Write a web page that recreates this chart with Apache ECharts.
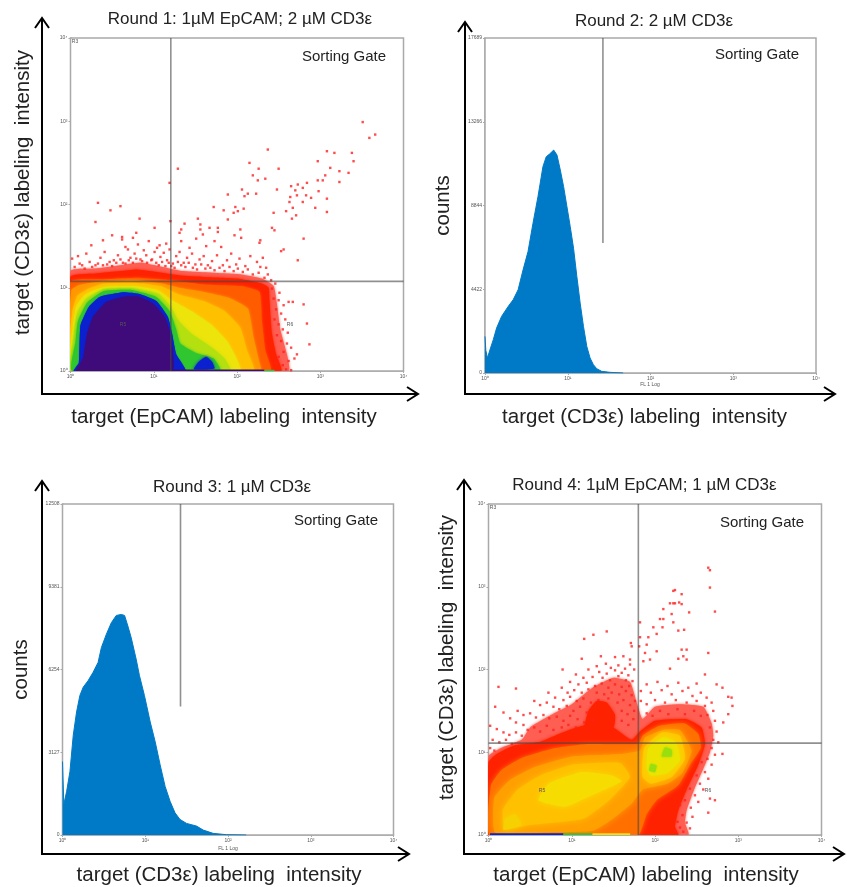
<!DOCTYPE html>
<html><head><meta charset="utf-8">
<style>html,body{margin:0;padding:0;background:#fff}#c{width:847px;height:887px;filter:blur(0.45px)}</style>
<script src="https://cdn.jsdelivr.net/npm/echarts@6/dist/echarts.min.js"></script>
</head><body><div id="c"></div>
<script>
// ---------- text ----------
const titles = ['Round 1: 1µM EpCAM; 2 µM CD3ε','Round 2: 2 µM CD3ε','Round 3: 1 µM CD3ε','Round 4: 1µM EpCAM; 1 µM CD3ε'];
const xNames = ['target (EpCAM) labeling  intensity','target (CD3ε) labeling  intensity','target (CD3ε) labeling  intensity','target (EpCAM) labeling  intensity'];
const yNames = ['target (CD3ε) labeling  intensity','counts','counts','target (CD3ε) labeling  intensity'];
const gateLabel = 'Sorting Gate';
// ---------- histograms: log10(intensity) and counts ----------
const round2Exp = [0,0.01,0.03,0.06,0.10,0.14,0.20,0.28,0.34,0.40,0.46,0.52,0.58,0.64,0.70,0.74,0.78,0.83,0.87,0.91,0.95,0.99,1.03,1.07,1.11,1.15,1.19,1.23,1.27,1.31,1.35,1.41,1.51,1.67];
const round2Counts = [1933,1200,791,1230,1757,2372,2987,3514,3865,4393,5447,6413,7907,9312,10893,11421,11561,11772,11508,10718,9839,8785,7731,6589,5095,3690,2460,1406,791,439,228,88,35,0];
const round3Exp = [0,0.016,0.05,0.09,0.13,0.17,0.21,0.25,0.31,0.37,0.43,0.47,0.53,0.59,0.65,0.71,0.75,0.79,0.83,0.89,0.93,0.99,1.06,1.12,1.18,1.24,1.30,1.36,1.42,1.50,1.62,1.70,1.82,1.98,2.22];
const round3Counts = [2774,1150,1649,2399,3773,4648,5273,5585,5835,6148,6522,7085,7585,8022,8297,8334,8297,7897,7460,6647,6023,5273,4273,3524,2649,1837,1274,837,587,437,337,187,62,12,0];
const round2Ticks = [0,4422,8844,13266,17689];
const round3Ticks = [0,3127,6254,9381,12508];
// ---------- gates: log10 positions, histogram gates stop at a count ----------
const gate1 = [1.205,1.077];
const gate4 = [1.80,1.11];
const gate2 = [1.425,6870];
const gate3 = [1.426,4860];
// ---------- Round 1 density contours (log10 x, log10 y) ----------
const r1Pale = [[0,0],[0,1.2],[.3,1.23],[.6,1.27],[.85,1.3],[1.1,1.25],[1.35,1.2],[1.7,1.18],[2.05,1.16],[2.3,1.11],[2.44,1.02],[2.48,.8],[2.52,.5],[2.6,.2],[2.62,0]];
const r1Red = [[0,0],[0,1.13],[.3,1.17],[.6,1.2],[.8,1.22],[1.1,1.18],[1.3,1.15],[1.6,1.13],[2,1.11],[2.3,1.05],[2.38,1],[2.39,.85],[2.42,.45],[2.47,.2],[2.53,0]];
const r1RedOrange = [[0,0],[0,1.07],[.4,1.1],[.8,1.12],[1.2,1.09],[1.6,1.04],[2.05,1.02],[2.27,.95],[2.3,.6],[2.34,.25],[2.4,0]];
const r1Orange = [[.01,0],[.01,.97],[.1,1.03],[.4,1.08],[.8,1.09],[1.1,1.05],[1.3,1],[1.6,.95],[1.9,.88],[2.13,.75],[2.2,.4],[2.27,.1],[2.29,0]];
const r1Amber = [[.01,0],[.02,.7],[.08,.9],[.2,.98],[.4,1.05],[.75,1.06],[1.08,1.02],[1.3,.92],[1.6,.84],[1.85,.72],[2.04,.52],[2.12,.25],[2.2,0]];
const r1Yellow = [[.01,0],[.03,.55],[.07,.78],[.18,.92],[.4,1.01],[.75,1.02],[1.05,.97],[1.22,.85],[1.45,.72],[1.7,.55],[1.88,.36],[1.98,.18],[2.04,0]];
const r1Lime = [[.02,0],[.04,.45],[.08,.7],[.19,.87],[.4,.985],[.75,.995],[1.05,.93],[1.2,.78],[1.3,.6],[1.45,.45],[1.7,.28],[1.85,.15],[1.92,0]];
const r1Green = [[.02,0],[.06,.35],[.09,.6],[.2,.82],[.4,.96],[.72,.975],[1.03,.89],[1.19,.72],[1.27,.5],[1.32,.33],[1.5,.22],[1.72,.15],[1.8,0]];
const r1Blue = [[.04,0],[.1,.1],[.12,.55],[.22,.77],[.35,.89],[.63,.945],[.83,.925],[1.03,.84],[1.17,.65],[1.22,.45],[1.27,.2],[1.38,0]];
const r1BluePatch = [[1.48,.02],[1.53,.1],[1.63,.17],[1.7,.11],[1.73,.03]];
const r1Purple = [[.07,0],[.15,.15],[.2,.45],[.27,.65],[.43,.83],[.63,.89],[.83,.89],[.99,.81],[1.13,.65],[1.2,.45],[1.22,0]];
const r1StripDark = [[1.22,0],[2.33,0],[2.33,.015],[1.22,.015]];
const r1StripLight = [[2.33,0],[2.45,0],[2.45,.015],[2.33,.015]];
// Round 1 individual events
const r1Dots = [[3.51,2.99],[3.66,2.84],[3.59,2.8],[2.37,2.66],[3.17,2.62],[3.08,2.64],[3.38,2.62],[2.97,2.52],[3.4,2.52],[2.15,2.5],[1.29,2.43],[2.26,2.43],[2.5,2.43],[3.12,2.44],[3.23,2.4],[2.19,2.35],[3.34,2.38],[3.06,2.35],[2.25,2.29],[2.34,2.31],[2.97,2.29],[3.03,2.29],[3.23,2.27],[1.19,2.26],[2.73,2.24],[2.65,2.22],[2.84,2.26],[2.79,2.2],[2.7,2.17],[2.48,2.18],[2.06,2.18],[2.23,2.13],[2.13,2.13],[2.09,2.1],[1.89,2.12],[2.98,2.16],[2.83,2.11],[2.64,2.09],[2.72,2.11],[3.08,2.07],[2.89,2.08],[2.79,2.03],[2.63,2.03],[.33,2.02],[.6,1.98],[.48,1.93],[1.72,1.97],[1.98,1.97],[2.67,1.96],[2.94,1.96],[1.84,1.93],[2.01,1.92],[1.96,1.9],[2.08,1.95],[2.59,1.92],[3.08,1.91],[2.44,1.9],[2.71,1.87],[2.66,1.83],[1.53,1.83],[.83,1.83],[1.2,1.8],[1.89,1.82],[.3,1.79],[1.37,1.77],[1.56,1.76],[1.67,1.72],[1.77,1.72],[2.42,1.72],[2.45,1.69],[1.01,1.72],[1.33,1.7],[2.04,1.7],[1.56,1.7],[.79,1.66],[1.31,1.66],[1.59,1.64],[1.77,1.67],[1.97,1.63],[2.05,1.6],[2.8,1.59],[.5,1.63],[.62,1.61],[.75,1.6],[.39,1.57],[.62,1.58],[1.33,1.56],[1.51,1.59],[1.73,1.56],[2.28,1.57],[2.27,1.54],[.25,1.51],[1.07,1.51],[1.15,1.53],[1.43,1.48],[1.63,1.5],[1.81,1.49],[2.56,1.46],[.66,1.49],[2.8,.8],[2.84,.57],[2.87,.32],[2.72,.2],[2.67,.83],[2.65,.01],[2.69,.15],[2.53,1.44],[2.73,1.33],
 [.02,1.35],[.09,1.38],[.11,1.29],[.19,1.41],[.23,1.31],[.3,1.27],[.36,1.36],[.41,1.43],[.44,1.28],[.52,1.33],[.57,1.39],[.63,1.3],[.69,1.46],[.72,1.36],[.77,1.41],[.81,1.52],[.84,1.34],[.88,1.45],[.91,1.39],[.94,1.56],[.97,1.33],[1.01,1.43],[1.04,1.48],[1.08,1.37],[1.12,1.42],[1.16,1.33],[1.19,1.46],[1.23,1.29],[1.27,1.38],[1.31,1.43],[1.36,1.3],[1.4,1.36],[1.46,1.41],[1.5,1.28],[1.55,1.34],[1.6,1.38],[1.65,1.27],[1.7,1.32],[1.76,1.39],[1.83,1.27],[1.88,1.33],[1.93,1.41],[1.99,1.28],[2.03,1.35],[2.1,1.26],[2.16,1.38],[2.24,1.31],[2.31,1.36],[2.35,1.24],[2.28,1.25],
 [.05,1.25],[.14,1.27],[.17,1.23],[.26,1.25],[.33,1.29],[.39,1.27],[.47,1.31],[.5,1.26],[.55,1.3],[.6,1.34],[.66,1.29],[.7,1.33],[.75,1.3],[.79,1.35],[.86,1.32],[.92,1.3],[.98,1.34],[1.03,1.3],[1.06,1.27],[1.1,1.31],[1.14,1.26],[1.18,1.3],[1.21,1.26],[1.25,1.24],[1.29,1.31],[1.33,1.27],[1.38,1.25],[1.42,1.3],[1.47,1.24],[1.52,1.22],[1.57,1.28],[1.62,1.23],[1.68,1.24],[1.73,1.21],[1.79,1.24],[1.85,1.2],[1.91,1.25],[1.96,1.2],[2.01,1.23],[2.07,1.19],[2.13,1.22],[2.19,1.16],[2.26,1.18],[2.33,1.12],[2.37,1.16],[2.41,1.09],
 [2.42,.99],[2.46,1.05],[2.51,.94],[2.44,.87],[2.5,.85],[2.56,.79],[2.62,.83],[2.47,.74],[2.53,.69],[2.45,.62],[2.58,.62],[2.5,.56],[2.55,.5],[2.61,.46],[2.48,.43],[2.53,.36],[2.6,.33],[2.65,.28],[2.56,.23],[2.5,.17],[2.62,.12],[2.55,.07],[2.59,.02],[2.47,.1]];
// ---------- Round 4 density contours ----------
const r4Pale = [[0,0],[0,.95],[.15,1.05],[.4,1.15],[.5,1.3],[.75,1.45],[1,1.58],[1.25,1.78],[1.5,1.9],[1.7,1.85],[1.78,1.6],[1.85,1.4],[2,1.55],[2.3,1.58],[2.58,1.55],[2.68,1.35],[2.7,1.2],[2.66,1],[2.58,.8],[2.47,.55],[2.38,.3],[2.36,.15],[2.4,0]];
const r4Red = [[0,0],[0,.88],[.1,.98],[.3,1.08],[.6,1.12],[.8,1.2],[1,1.28],[1.3,1.36],[1.5,1.3],[1.72,1.15],[1.82,1.25],[2,1.38],[2.38,1.4],[2.56,1.3],[2.6,1.1],[2.52,.85],[2.38,.55],[2.28,.3],[2.24,.1],[2.28,0]];
const r4RedBlob = [[1.15,1.25],[1.2,1.5],[1.3,1.62],[1.42,1.6],[1.52,1.45],[1.5,1.3]];
const r4Orange = [[.02,0],[.03,.6],[.15,.78],[.4,.93],[.8,1.05],[1.2,1.1],[1.8,1.1],[1.85,1.2],[2.05,1.32],[2.35,1.35],[2.52,1.22],[2.55,1.05],[2.42,.85],[2.28,.6],[2.02,.42],[1.9,.25],[1.85,.1],[1.8,0]];
const r4Amber = [[.08,.03],[.07,.45],[.25,.66],[.55,.82],[1,.95],[1.6,.98],[1.82,1.02],[1.88,1.18],[2.1,1.27],[2.3,1.27],[2.44,1.02],[2.33,.75],[2.15,.62],[1.85,.55],[1.72,.38],[1.5,.2],[1.25,.05],[.7,.03]];
const r4Gold = [[.2,.08],[.17,.3],[.35,.55],[.62,.72],[1,.85],[1.58,.87],[1.7,.7],[1.45,.42],[1.15,.2],[.8,.15],[.5,.12]];
const r4Yellow1 = [[.6,.42],[.72,.62],[1.12,.76],[1.48,.72],[1.6,.65],[1.22,.47],[.92,.34]];
const r4Yellow2 = [[1.9,.8],[1.92,1.05],[2.1,1.18],[2.25,1.12],[2.3,.9],[2.15,.75],[1.95,.72]];
const r4Yellow3 = [[.18,.06],[.2,.2],[.32,.25],[.4,.12]];
const r4Gold2 = [[1.85,.7],[1.87,1.05],[2.08,1.24],[2.3,1.2],[2.36,.92],[2.2,.7],[1.95,.62]];
const r4Green1 = [[2.08,.95],[2.12,1.06],[2.2,1.03],[2.2,.95]];
const r4Green2 = [[1.93,.78],[1.95,.86],[2.02,.84],[2,.76]];
const r4StripBlue = [[.02,0],[.9,0],[.9,.02],[.02,.02]];
const r4StripGreen = [[.9,0],[1.25,0],[1.25,.02],[.9,.02]];
const r4StripYellow = [[1.25,0],[1.7,0],[1.7,.02],[1.25,.02]];
const r4Dots = [[2.64,3.23],[2.66,3.2],[2.66,2.99],[2.72,2.7],[2.24,2.96],[2.22,2.95],[2.32,2.91],[2.18,2.8],[2.22,2.8],[2.24,2.8],[2.29,2.81],[2.32,2.79],[2.41,2.69],[2.1,2.73],[2.2,2.67],[2.06,2.61],[1.82,2.57],[2.1,2.61],[2.09,2.51],[2.22,2.57],[1.98,2.51],[2.02,2.43],[2.28,2.47],[2.35,2.48],[1.42,2.46],[1.26,2.42],[1.15,2.37],[1.92,2.39],[1.82,2.39],[1.71,2.32],[1.72,2.28],[1.81,2.28],[1.9,2.3],[2.32,2.24],[2.38,2.24],[2.64,2.2],[1.88,2.2],[2.02,2.22],[2.34,2.16],[2.28,2.13],[2.38,2.12],[1.35,2.16],[1.52,2.15],[1.62,2.16],[1.12,2.13],[1.7,2.12],[1.94,2.12],[1.86,2.1],[2.18,2.01],[.89,2],[2.6,1.94],[.12,1.79],[.33,1.77],[2.74,1.82],[2.81,1.78],[2.92,1.66],[2.88,1.67],[2.93,1.56],[2.88,1.46],[2.82,1.36],[2.81,.98],[2.72,.42],[2.64,.27],[2.66,.44],
 [1.3,2.04],[1.41,2.07],[1.47,2.02],[1.56,2.05],[1.64,2.01],[1.7,2.06],[1.75,2],[1.2,2],[1.33,1.97],[1.42,1.95],[1.52,1.99],[1.6,1.96],[1.68,1.93],[1.05,1.94],[1.14,1.9],[1.25,1.91],[1.37,1.9],[1.46,1.87],[1.56,1.92],[1.65,1.87],[1.73,1.86],
 [.98,1.85],[1.08,1.82],[1.18,1.84],[1.28,1.8],[1.36,1.83],[1.44,1.78],[1.52,1.82],[1.6,1.79],[1.69,1.8],[.88,1.78],[.95,1.72],[1.03,1.75],[1.12,1.72],[1.2,1.76],[1.3,1.72],[1.39,1.7],[1.48,1.72],[1.57,1.7],[1.65,1.74],[1.72,1.69],
 [.72,1.72],[.8,1.66],[.9,1.63],[.98,1.67],[1.06,1.62],[1.14,1.65],[1.23,1.6],[1.32,1.63],[1.44,1.65],[1.55,1.6],[1.62,1.63],[1.7,1.57],[1.76,1.62],
 [.55,1.62],[.62,1.57],[.7,1.6],[.78,1.55],[.85,1.52],[.94,1.56],[1.02,1.5],[1.1,1.55],[1.18,1.48],[1.6,1.5],[1.67,1.46],[1.75,1.5],
 [.35,1.5],[.42,1.45],[.5,1.47],[.57,1.42],[.66,1.45],[.73,1.41],[.82,1.43],[.9,1.38],[.98,1.44],[1.07,1.4],[1.6,1.38],[1.68,1.33],[1.74,1.4],
 [.08,1.55],[.18,1.48],[.26,1.41],[.33,1.36],[.42,1.33],[.47,1.27],[.55,1.3],[.62,1.25],[.7,1.32],[.78,1.27],[.88,1.3],[.96,1.33],[1.05,1.3],[1.15,1.36],[1.25,1.39],
 [.02,1.32],[.1,1.28],[.18,1.24],[.25,1.21],[.33,1.24],[.4,1.2],[.05,1.15],[.13,1.12],[.21,1.15],[.28,1.1],[.02,1.05],[.07,1.02],
 [1.9,1.82],[2.03,1.85],[2.15,1.8],[2.28,1.84],[2.4,1.78],[2.5,1.83],[1.83,1.74],[1.95,1.72],[2.08,1.75],[2.2,1.7],[2.33,1.74],[2.45,1.68],[2.55,1.72],[2.62,1.66],[1.83,1.62],[1.9,1.58],[2,1.63],[2.12,1.6],[2.25,1.63],[2.38,1.6],[2.5,1.62],[2.6,1.56],[2.68,1.6],[2.7,1.5],[2.63,1.45],[2.72,1.38],[2.66,1.3],[2.74,1.25],[2.7,1.15],[2.76,1.12],[2.68,1.05],[2.72,.97],[2.63,.92],[2.68,.85],[2.6,.76],[2.64,.68],[2.54,.62],[2.58,.55],[2.48,.48],[2.52,.4],[2.43,.33],[2.45,.22],[2.38,.15],[2.42,.08],[2.34,.04],
 [1.9,1.47],[1.97,1.44],[2.06,1.5],[2.16,1.46],[2.27,1.52],[2.36,1.46],[2.47,1.5],[2.55,1.44],
 [2.3,.36],[2.33,.24],[2.27,.16],[2.3,.09],[2.24,.05],[2.36,.42],[2.42,.56],[2.5,.72],[2.56,.88]];
const axisColor = '#a9a9a9';
const bandColors = {pale:'#ff5e52',red:'#ff2200',redOrange:'#ff5c00',orange:'#ff9800',amber:'#ffc000',yellow:'#ece40a',lime:'#b4e010',green:'#2fc62f',blue:'#0b21d0',purple:'#3f0a7a'};
const decadeTicks = ['10⁰','10¹','10²','10³','10⁴'];

const grids = [
 {left:70.5,top:38,width:333,height:333},
 {left:485,top:38,width:331,height:335},
 {left:62.5,top:504,width:331,height:333},
 {left:488.5,top:504,width:333,height:333}
];
const toReal = p => [Math.pow(10,p[0]),Math.pow(10,p[1])];

function band(gridIndex,pts,color,soft){
  const real = pts.map(toReal);
  const blur = soft===undefined?3:soft;
  return {type:'custom',coordinateSystem:'cartesian2d',xAxisIndex:gridIndex,yAxisIndex:gridIndex,silent:true,clip:true,z:2,
    data:real,
    renderItem:(params,api)=>{
      if(params.dataIndex!==0) return null;
      return {type:'polygon',shape:{points:real.map(p=>api.coord(p)),smooth:0.15},style:{fill:color,shadowBlur:blur,shadowColor:color}};
    }};
}
function dots(gridIndex,pts){
  return {type:'scatter',xAxisIndex:gridIndex,yAxisIndex:gridIndex,silent:true,z:3,symbol:'rect',symbolSize:2.4,
    itemStyle:{color:'#ff2020'},data:pts.map(toReal)};
}
function gateLine(gridIndex,a,b){
  return {type:'line',xAxisIndex:gridIndex,yAxisIndex:gridIndex,silent:true,z:4,symbol:'none',animation:false,
    lineStyle:{color:'rgba(70,70,70,.6)',width:1.6},data:[a,b]};
}
function hist(gridIndex,exp,counts){
  return {type:'line',xAxisIndex:gridIndex,yAxisIndex:gridIndex,silent:true,z:2,symbol:'none',
    lineStyle:{color:'#007ac6',width:1},areaStyle:{color:'#007ac6',opacity:1},
    data:exp.map((e,i)=>[Math.pow(10,e),counts[i]])};
}
const C = bandColors;
const series = [
 band(0,r1Pale,C.pale),band(0,r1Red,C.red),band(0,r1RedOrange,C.redOrange),band(0,r1Orange,C.orange),band(0,r1Amber,C.amber),band(0,r1Yellow,C.yellow),
 band(0,r1Lime,C.lime),band(0,r1Green,C.green),band(0,r1Blue,C.blue,1),band(0,r1BluePatch,C.blue),band(0,r1Purple,C.purple,1),band(0,r1StripDark,C.purple,0),band(0,r1StripLight,C.green,0),
 dots(0,r1Dots),
 gateLine(0,[Math.pow(10,gate1[0]),1],[Math.pow(10,gate1[0]),10000]),
 gateLine(0,[1,Math.pow(10,gate1[1])],[10000,Math.pow(10,gate1[1])]),
 hist(1,round2Exp,round2Counts),
 gateLine(1,[Math.pow(10,gate2[0]),gate2[1]],[Math.pow(10,gate2[0]),17689]),
 hist(2,round3Exp,round3Counts),
 gateLine(2,[Math.pow(10,gate3[0]),gate3[1]],[Math.pow(10,gate3[0]),12508]),
 band(3,r4Pale,C.pale),band(3,r4Red,C.red),band(3,r4RedBlob,C.red),band(3,r4Orange,'#ff7000',5),band(3,r4Amber,'#ffa000',6),band(3,r4Gold,'#ffc000',6),
 band(3,r4Gold2,'#ffc800',5),band(3,r4Yellow1,'#f6dc00',6),band(3,r4Yellow2,'#ece400',6),band(3,r4Yellow3,'#f6d000',5),band(3,r4Green1,'#9ade10',3),band(3,r4Green2,'#9ade10',2),
 band(3,r4StripBlue,C.blue,0),band(3,r4StripGreen,C.green,0),band(3,r4StripYellow,C.yellow,0),
 dots(3,r4Dots),
 gateLine(3,[Math.pow(10,gate4[0]),1],[Math.pow(10,gate4[0]),10000]),
 gateLine(3,[1,Math.pow(10,gate4[1])],[10000,Math.pow(10,gate4[1])])
];
const tickLabel = {fontSize:5,color:'#555',fontFamily:'Liberation Sans',margin:3};
const logFmt = v => decadeTicks[Math.round(Math.log10(v))] ;
const line = {show:true,lineStyle:{color:axisColor,width:1.5}};
const tick = {show:true,length:2,lineStyle:{color:axisColor,width:1}};
function xAxis(i){return {type:'log',logBase:10,min:1,max:10000,gridIndex:i,axisLine:line,axisTick:tick,splitLine:{show:false},minorTick:{show:false},
  axisLabel:{...tickLabel,formatter:logFmt},name:xNames[i],nameLocation:'middle',nameGap:[36,34,30,30][i],
  nameTextStyle:{fontSize:20.5,color:'#222',fontFamily:'Liberation Sans',padding:[[0,26,0,0],[0,12,0,0],[0,18,0,0],[0,18,0,0]][i]}};}
function yAxis(i){
  const name={name:yNames[i],nameLocation:'middle',nameGap:[37,31,31,31][i],
   nameTextStyle:{fontSize:20.5,color:'#222',fontFamily:'Liberation Sans',padding:[[0,0,0,24],[0,0,0,0],[0,0,0,0],[0,0,0,24]][i]}};
  if(i===0||i===3) return {type:'log',logBase:10,min:1,max:10000,gridIndex:i,axisLine:line,axisTick:tick,splitLine:{show:false},minorTick:{show:false},
    axisLabel:{...tickLabel,formatter:logFmt},...name};
  const ticks=i===1?round2Ticks:round3Ticks, top=ticks[4];
  return {type:'value',min:0,max:top,interval:top/4,gridIndex:i,axisLine:line,axisTick:tick,splitLine:{show:false},
    axisLabel:{...tickLabel,formatter:v=>String(Math.floor(v))},...name};
}
const arrow = (x0,y0,x1,y1)=>[
 {type:'polyline',shape:{points:[[x0,y0],[x0,y1],[x1,y1]]},style:{stroke:'#000',lineWidth:2,fill:null},z:10},
 {type:'polyline',shape:{points:[[x0-7,y0+10],[x0,y0],[x0+7,y0+10]]},style:{stroke:'#000',lineWidth:2,fill:null},z:10},
 {type:'polyline',shape:{points:[[x1-11,y1-7],[x1,y1],[x1-11,y1+7]]},style:{stroke:'#000',lineWidth:2,fill:null},z:10}];
const tiny=(t,x,y)=>({type:'text',x,y,style:{text:t,fontSize:5,fill:'#555',fontFamily:'Liberation Sans',textAlign:'center',textVerticalAlign:'middle'},z:10});
const gateText=(x,y)=>({type:'text',x,y,style:{text:gateLabel,fontSize:15,fill:'#222',fontFamily:'Liberation Sans',textAlign:'center',textVerticalAlign:'middle'},z:10});
const titleAt=[[240,19],[654,21],[232,487],[644.5,485]];
const option={animation:false,backgroundColor:'#fff',
 title:titles.map((t,i)=>({text:t,left:titleAt[i][0],top:titleAt[i][1],textAlign:'center',textVerticalAlign:'middle',padding:0,
   textStyle:{fontSize:17,fontWeight:'normal',color:'#222',fontFamily:'Liberation Sans'}})),
 grid:grids.map(g=>({...g,show:true,borderColor:axisColor,borderWidth:1.5,backgroundColor:'#fff',containLabel:false,z:1})),
 xAxis:[0,1,2,3].map(xAxis),yAxis:[0,1,2,3].map(yAxis),series,
 graphic:[...arrow(42,18,418,394),...arrow(465,22,835,394),...arrow(42,481,409,854),...arrow(464,480,844,854),
  gateText(344,57),gateText(757,55),gateText(336,521),gateText(762,523),
  tiny('R3',75,42),tiny('R5',123,325),tiny('R6',290,325),tiny('R3',493,508),tiny('R5',542,791),tiny('R6',708,791),
  tiny('FL 1 Log',650,385),tiny('FL 1 Log',228,849)]
};
echarts.init(document.getElementById('c'),null,{renderer:'canvas'}).setOption(option);
</script></body></html>
